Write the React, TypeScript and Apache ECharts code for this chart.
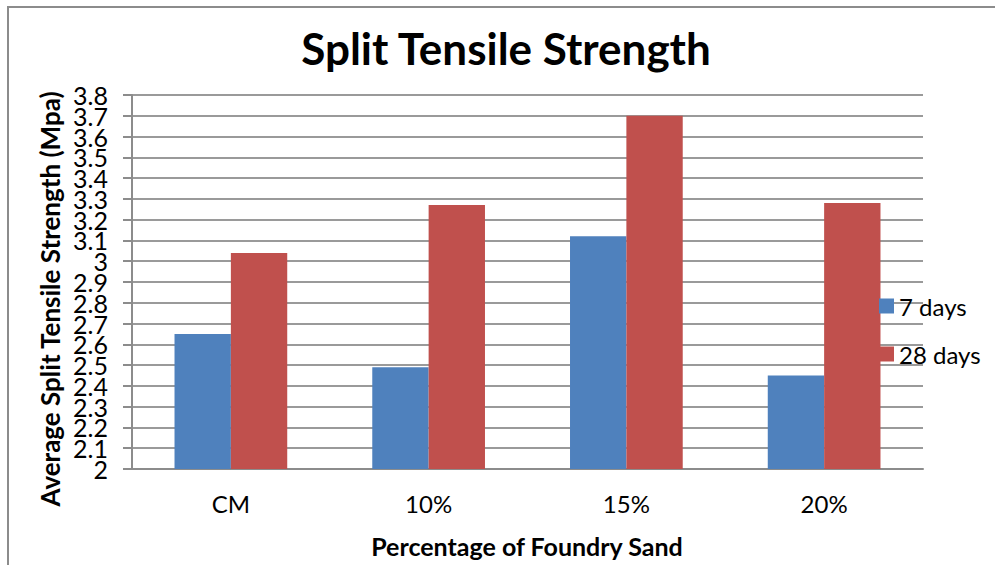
import React, { useEffect, useRef } from "react";
import * as echarts from "echarts";

// Split tensile strength (MPa) by foundry sand replacement level
const categories = ["CM", "10%", "15%", "20%"];
const days7 = [2.65, 2.49, 3.12, 2.45];
const days28 = [3.04, 3.27, 3.7, 3.28];
const seriesNames = ["7 days", "28 days"];

// Y tick labels, split into two interleaved sets so the tightly packed labels all stay visible
const yTicksA = [2, 2.2, 2.4, 2.6, 2.8, 3, 3.2, 3.4, 3.6, 3.8];
const yTicksB = [2.1, 2.3, 2.5, 2.7, 2.9, 3.1, 3.3, 3.5, 3.7];

const FONT = "Lato, 'Open Sans', sans-serif";
const AXIS_GREY = "#8c8c8c";

export default function App() {
  const ref = useRef<HTMLDivElement>(null);

  useEffect(() => {
    document.body.style.margin = "0";
    if (!ref.current) return;
    const chart = echarts.init(ref.current, undefined, { renderer: "svg" });

    const labelStyle = {
      fontSize: 25,
      color: "#000",
      margin: 24,
      fontFamily: FONT,
      hideOverlap: false,
      formatter: (v: number) => String(+v.toFixed(1)),
    };

    chart.setOption({
      animation: false,
      backgroundColor: "#ffffff",
      textStyle: { fontFamily: FONT },
      grid: { left: 132, top: 95, width: 791, height: 374, containLabel: false },
      legend: {
        orient: "vertical",
        left: 874,
        top: 289,
        itemWidth: 15,
        itemHeight: 15,
        itemGap: 24,
        itemTextGap: 3,
        icon: "rect",
        data: seriesNames,
        textStyle: { fontSize: 24, fontFamily: FONT, color: "#000", lineHeight: 24 },
      },
      xAxis: {
        type: "category",
        data: categories,
        axisLine: { show: true, lineStyle: { color: AXIS_GREY, width: 2 } },
        axisTick: { show: false },
        axisLabel: { fontSize: 24, color: "#000", margin: 22, fontFamily: FONT },
        splitLine: { show: false },
      },
      yAxis: [
        {
          type: "value",
          min: 2,
          max: 3.8,
          interval: 0.1,
          axisLine: { show: true, lineStyle: { color: AXIS_GREY, width: 2 } },
          axisTick: { show: true, inside: false, length: 9, lineStyle: { color: AXIS_GREY, width: 2 } },
          axisLabel: { ...labelStyle, customValues: yTicksA, showMinLabel: true, showMaxLabel: true },
          splitLine: { show: true, lineStyle: { color: "#9a9a9a", width: 2 } },
        },
        {
          type: "value",
          position: "left",
          min: 2,
          max: 3.8,
          interval: 0.1,
          axisLine: { show: false },
          axisTick: { show: false },
          axisLabel: { ...labelStyle, customValues: yTicksB },
          splitLine: { show: false },
        },
      ],
      series: [
        {
          name: seriesNames[0],
          type: "bar",
          data: days7,
          yAxisIndex: 0,
          barGap: "0%",
          barCategoryGap: "43%",
          itemStyle: { color: "#4F81BD" },
        },
        {
          name: seriesNames[1],
          type: "bar",
          data: days28,
          yAxisIndex: 0,
          barGap: "0%",
          barCategoryGap: "43%",
          itemStyle: { color: "#C0504D" },
        },
      ],
      graphic: [
        {
          type: "rect",
          shape: { x: 8, y: 7, width: 1100, height: 700 },
          style: { fill: "none", stroke: AXIS_GREY, lineWidth: 2 },
          silent: true,
        },
        {
          type: "text",
          x: 506,
          y: 48,
          style: {
            text: "Split Tensile Strength",
            fontSize: 44,
            fontWeight: "bold",
            fontFamily: FONT,
            fill: "#000",
            align: "center",
            verticalAlign: "middle",
            textAlign: "center",
            textVerticalAlign: "middle",
          },
        },
        {
          type: "text",
          x: 527,
          y: 546,
          style: {
            text: "Percentage of Foundry Sand",
            fontSize: 25,
            fontWeight: "bold",
            fontFamily: FONT,
            fill: "#000",
            align: "center",
            verticalAlign: "middle",
            textAlign: "center",
            textVerticalAlign: "middle",
          },
        },
        {
          type: "text",
          x: 50,
          y: 299,
          rotation: Math.PI / 2,
          style: {
            text: "Average Split Tensile Strength (Mpa)",
            fontSize: 26,
            fontWeight: "bold",
            fontFamily: FONT,
            fill: "#000",
            align: "center",
            verticalAlign: "middle",
            textAlign: "center",
            textVerticalAlign: "middle",
          },
        },
      ],
    });
    return () => chart.dispose();
  }, []);

  return <div ref={ref} style={{ width: 995, height: 565 }} />;
}
